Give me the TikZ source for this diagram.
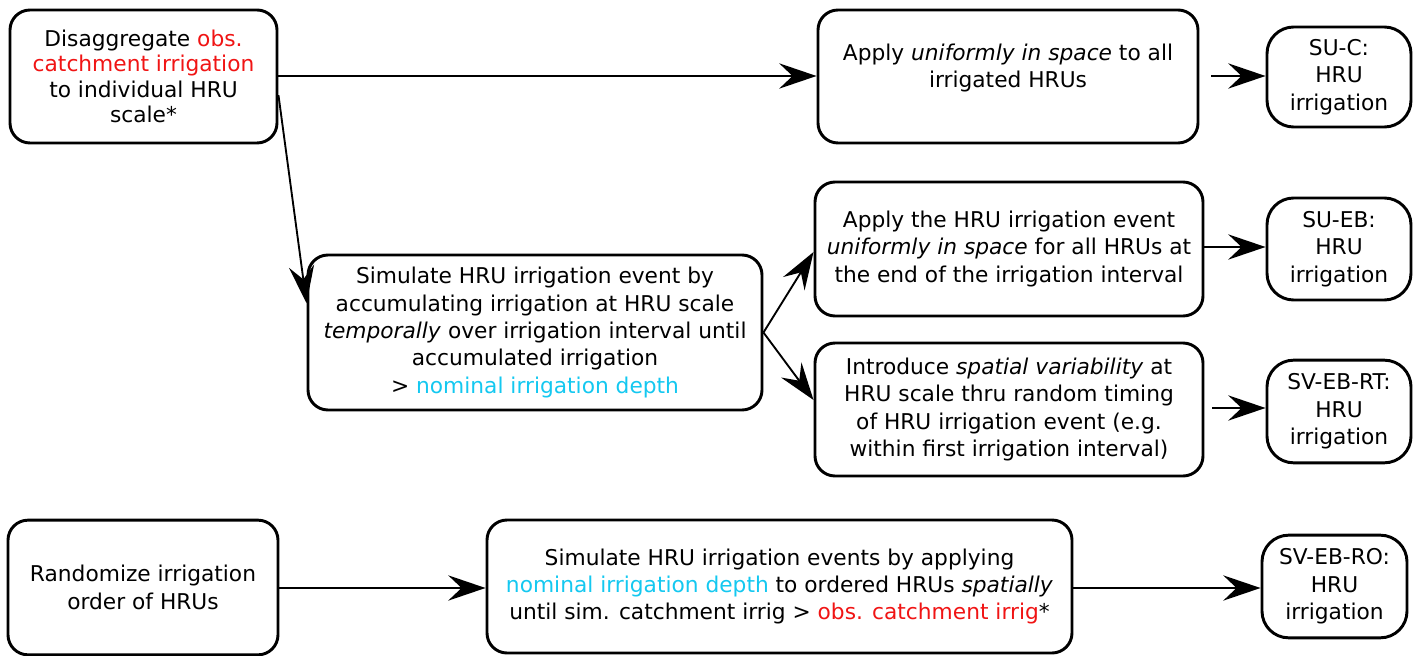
\documentclass[tikz,border=0pt]{standalone}
\usepackage{fontspec}
\setmainfont{DejaVu Sans}
\usetikzlibrary{arrows.meta}
\definecolor{obsred}{RGB}{240,20,20}
\definecolor{nomblue}{RGB}{20,200,240}
\begin{document}
\begin{tikzpicture}[x=0.75pt,y=-0.75pt,
  box/.style={draw, line width=2.2pt, rounded corners=15pt, align=center,
    inner sep=2pt, font=\fontsize{16.3}{20.5}\selectfont},
  smallbox/.style={box, rounded corners=20pt},
  conn/.style={line width=1.4pt, -{Stealth[length=28pt,width=19pt,inset=10pt]}}]
\useasboundingbox (0,0) rectangle (1418,656);
\node[box, minimum width=200.25pt, minimum height=99.75pt, font=\fontsize{16.3}{19}\selectfont] (A) at (143.5,76.5)
  {Disaggregate \textcolor{obsred}{obs.}\\\textcolor{obsred}{catchment irrigation}\\to individual HRU\\scale*};
\node[box, minimum width=285pt, minimum height=99.75pt] (B) at (1008,76.5)
  {Apply \textit{uniformly in space} to all\\irrigated HRUs\\[-4pt]};
\node[smallbox, minimum width=108pt, minimum height=75pt] (C) at (1339,77)
  {SU-C:\\HRU\\irrigation};
\node[box, minimum width=340.5pt, minimum height=116.25pt] (D) at (535,332.5)
  {Simulate HRU irrigation event by\\accumulating irrigation at HRU scale\\\textit{temporally} over irrigation interval until\\accumulated irrigation\\> \textcolor{nomblue}{nominal irrigation depth}};
\node[box, minimum width=291pt, minimum height=100.5pt] (E) at (1009,249)
  {Apply the HRU irrigation event\\\textit{uniformly in space} for all HRUs at\\the end of the irrigation interval};
\node[smallbox, minimum width=108pt, minimum height=76.5pt] (F) at (1339,249)
  {SU-EB:\\HRU\\irrigation};
\node[box, minimum width=291pt, minimum height=99.75pt] (G) at (1009,409.5)
  {Introduce \textit{spatial variability} at\\HRU scale thru random timing\\of HRU irrigation event (e.g.\\within first irrigation interval)};
\node[smallbox, minimum width=108pt, minimum height=77pt] (H) at (1339,411.5)
  {SV-EB-RT:\\HRU\\irrigation};
\node[box, minimum width=202.5pt, minimum height=101pt] (I) at (143,587.5)
  {Randomize irrigation\\order of HRUs};
\node[box, minimum width=438.75pt, minimum height=99.75pt] (J) at (779.5,586.5)
  {Simulate HRU irrigation events by applying\\\textcolor{nomblue}{nominal irrigation depth} to ordered HRUs \textit{spatially}\\until sim. catchment irrig > \textcolor{obsred}{obs. catchment irrig}*};
\node[smallbox, minimum width=108.75pt, minimum height=77pt] (K) at (1334.5,586.5)
  {SV-EB-RO:\\HRU\\irrigation};
\draw[conn] (A.east |- 0,76) -- (B.west |- 0,76);
\draw[conn] ([yshift=-14pt]A.east) -- ([yshift=22pt]D.west);
\draw[conn] ([xshift=9pt]B.east |- 0,76) -- (C.west |- 0,76);
\draw[conn] (D.east) -- (E.west |- 0,252);
\draw[conn] (D.east) -- (G.west |- 0,400);
\draw[conn] (E.east |- 0,247) -- (F.west |- 0,247);
\draw[conn] ([xshift=6pt]G.east |- 0,408) -- (H.west |- 0,408);
\draw[conn] (I.east |- 0,588) -- (J.west |- 0,588);
\draw[conn] (J.east |- 0,588) -- (K.west |- 0,588);
\end{tikzpicture}
\end{document}
